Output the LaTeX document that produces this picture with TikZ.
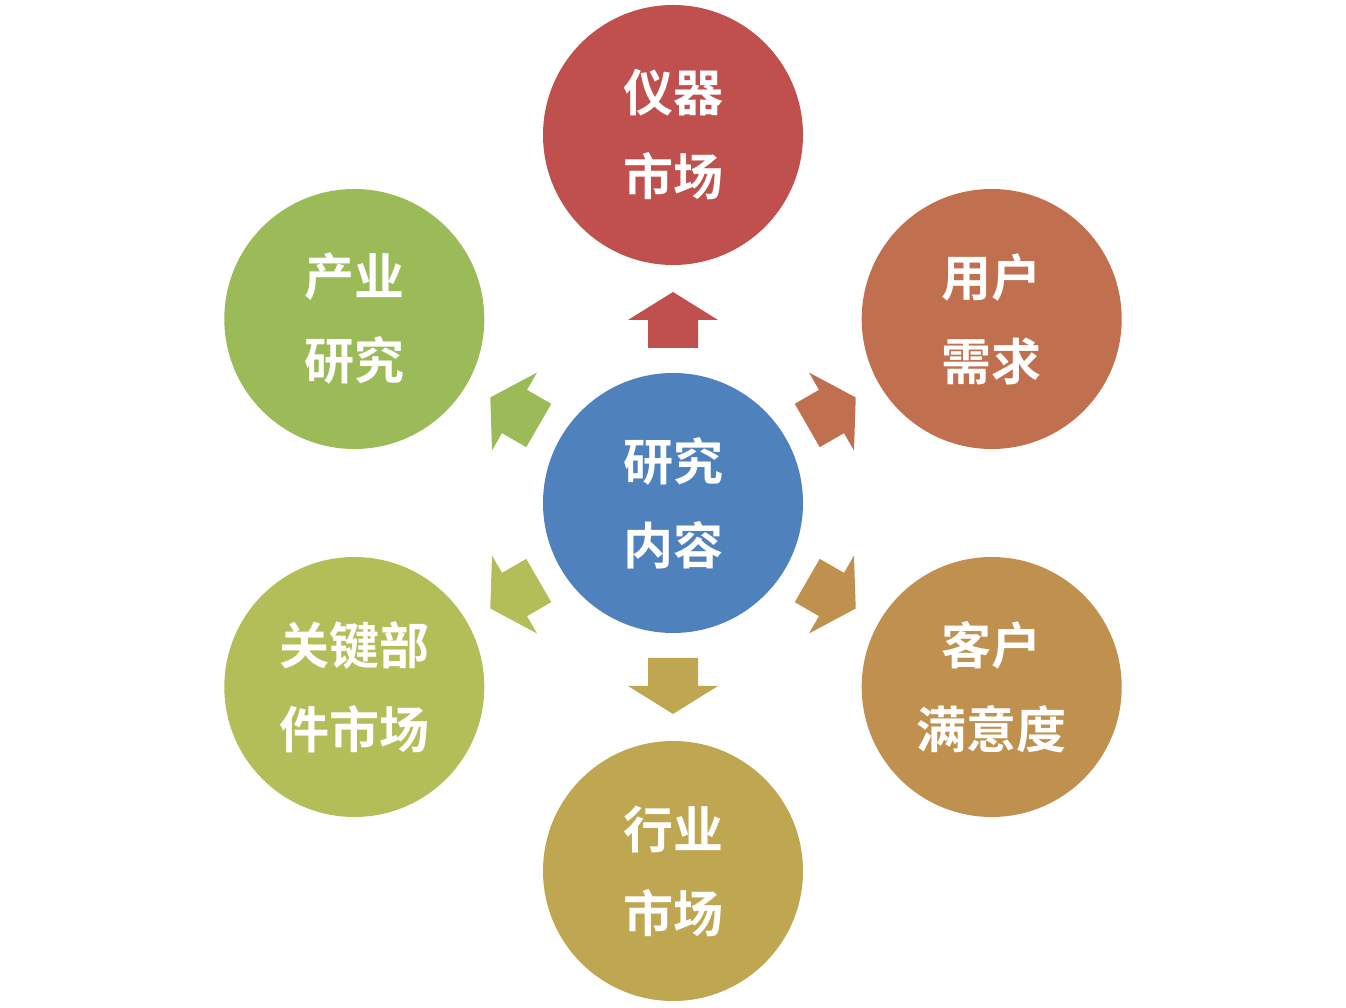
\documentclass[tikz,border=0pt]{standalone}
\usetikzlibrary{calc}
\usepackage{fontspec}
\newfontfamily\cjk{Noto Sans CJK SC Bold}
\begin{document}
\begin{tikzpicture}[x=1pt,y=1pt,
  circ/.style={circle,minimum size=260pt,inner sep=0pt,text=white,align=center,font=\cjk\fontsize{50}{84}\selectfont}]
\useasboundingbox (0,0) rectangle (1346,1007);
\definecolor{cC}{HTML}{4F81BD}
\definecolor{c1}{HTML}{C0504D}
\definecolor{c2}{HTML}{C0704F}
\definecolor{c3}{HTML}{C0904F}
\definecolor{c4}{HTML}{BFA752}
\definecolor{c5}{HTML}{B4BE58}
\definecolor{c6}{HTML}{9BBB59}
\coordinate (o) at (673,504);
\foreach \a/\c in {90/c1,30/c2,-30/c3,-90/c4,-150/c5,150/c6}{
  \fill[\c,shift={(o)},rotate=\a] (155,-25) -- (183,-25) -- (183,-45) -- (211,0) -- (183,45) -- (183,25) -- (155,25) -- cycle;
}
\node[circ,fill=cC] (c) at (o) {研究\\内容};
\node[circ,fill=c1] (n1) at ($(o)+(90:368)$) {仪器\\市场};
\node[circ,fill=c2] (n2) at ($(o)+(30:368)$) {用户\\需求};
\node[circ,fill=c3] (n3) at ($(o)+(-30:368)$) {客户\\满意度};
\node[circ,fill=c4] (n4) at ($(o)+(-90:368)$) {行业\\市场};
\node[circ,fill=c5] (n5) at ($(o)+(-150:368)$) {关键部\\件市场};
\node[circ,fill=c6] (n6) at ($(o)+(150:368)$) {产业\\研究};
\end{tikzpicture}
\end{document}
